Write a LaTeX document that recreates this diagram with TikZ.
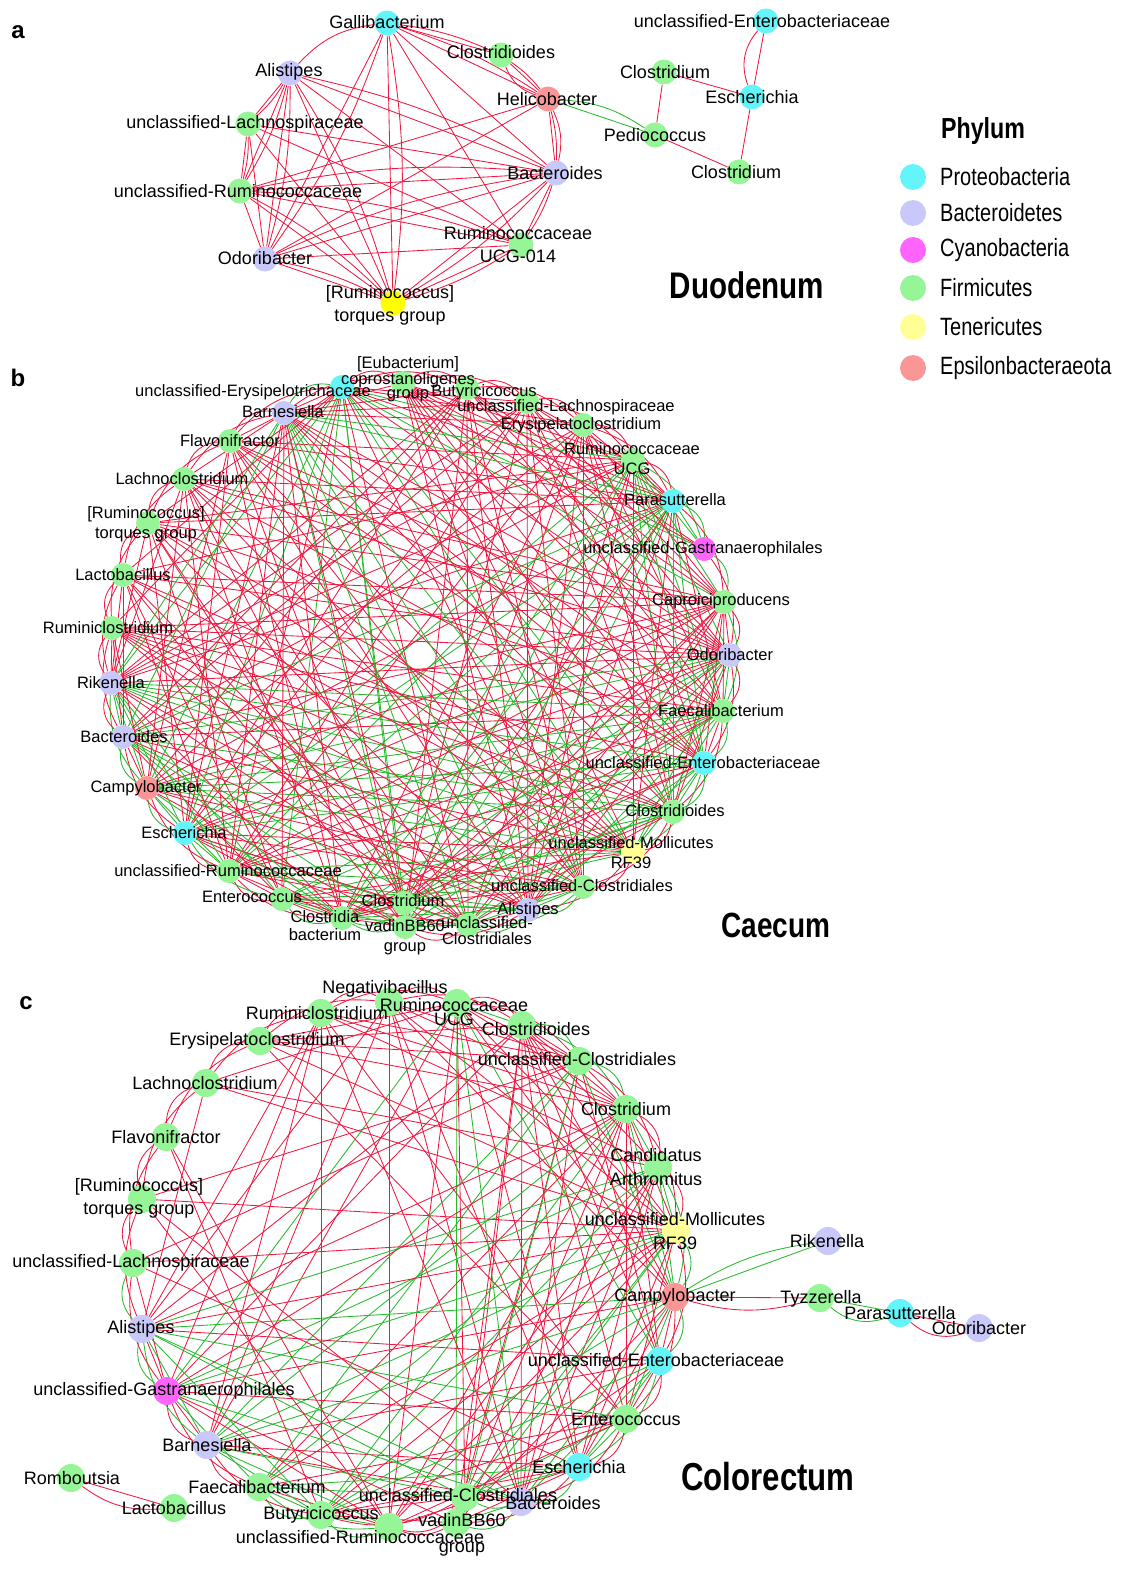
\documentclass[tikz,border=0pt]{standalone}
\usepackage{fontspec}
\setmainfont{Liberation Sans}
\newfontfamily\narrowfont[FakeStretch=0.8]{Liberation Sans}
\usepackage{tikz}
\definecolor{proteo}{RGB}{100,245,250}
\definecolor{bactero}{RGB}{200,200,250}
\definecolor{cyanob}{RGB}{255,100,255}
\definecolor{firmi}{RGB}{150,245,150}
\definecolor{teneri}{RGB}{255,255,150}
\definecolor{tenerib}{RGB}{255,255,0}
\definecolor{epsilon}{RGB}{250,150,150}
\definecolor{posedge}{RGB}{238,25,65}
\definecolor{negedge}{RGB}{40,185,45}
\pgfdeclarelayer{edges}
\pgfdeclarelayer{dots}
\pgfsetlayers{edges,dots,main}
\tikzstyle{otu}=[circle,inner sep=0pt,draw=none]
\tikzstyle{otua}=[otu,minimum size=25pt]
\tikzstyle{otub}=[otu,minimum size=24pt]
\tikzstyle{otuc}=[otu,minimum size=28pt]
\tikzstyle{pro}=[fill=proteo]
\tikzstyle{bac}=[fill=bactero]
\tikzstyle{cya}=[fill=cyanob]
\tikzstyle{fir}=[fill=firmi]
\tikzstyle{ten}=[fill=teneri]
\tikzstyle{tenb}=[fill=tenerib]
\tikzstyle{eps}=[fill=epsilon]
\tikzstyle{poscorr}=[draw=posedge,line width=0.85pt]
\tikzstyle{negcorr}=[draw=negedge,line width=0.85pt]
\tikzstyle{lbla}=[inner sep=0pt,align=center,font=\fontsize{18}{23}\selectfont]
\tikzstyle{lblb}=[inner sep=0pt,align=center,font=\fontsize{16.5}{20}\selectfont]
\tikzstyle{lblc}=[inner sep=0pt,align=center,font=\fontsize{18}{24}\selectfont]
\tikzstyle{panel}=[inner sep=0pt,font=\bfseries\fontsize{24}{26}\selectfont]
\tikzstyle{site}=[inner sep=0pt,font=\narrowfont\bfseries\fontsize{37}{40}\selectfont]
\tikzstyle{legtext}=[anchor=west,inner sep=0pt,font=\narrowfont\fontsize{25}{28}\selectfont]
% circle on its own layer, label on top
\newcommand{\taxon}[6]{%
  \begin{pgfonlayer}{dots}\node[#2] (#1) at (#3) {};\end{pgfonlayer}
  \node[#4] (#1-t) at (#5) {#6};}
% edge weights (index 0 unused)
\def\wb{{0,44,18,18,18,18,44,44,38,38,38,38,38,36,36,38,38,36,38,36,36,36,36,36,38,40,40,20,18,16,16,20,44}}
\def\wc{{0,20,52,48,48,48,46,46,46,46,46,46,44,44,44,46,38,44,44,46,46,5,0,0,0,5,20}}
\begin{document}
\begin{tikzpicture}[x=1pt,y=-1pt]
\useasboundingbox (0,0) rectangle (1130,1570);

%%% a: Duodenum
\node[panel] (pa) at (18,32) {a};
\taxon{dgalli}{otua,pro}{387,23}{lbla}{387,22}{Gallibacterium}
\taxon{dclostd}{otua,fir}{501,55}{lbla}{501,52}{Clostridioides}
\taxon{dalist}{otua,bac}{290,73}{lbla}{289,72}{Alistipes}
\taxon{dhelico}{otua,eps}{548,99}{lbla}{547,99}{Helicobacter}
\taxon{dulach}{otua,fir}{248,124}{lbla}{245,124}{unclassified-Lachnospiraceae}
\taxon{durum}{otua,fir}{240,191}{lbla}{238,191}{unclassified-Ruminococcaceae}
\taxon{dbacte}{otua,bac}{556,173}{lbla}{555,173}{Bacteroides}
\taxon{dodori}{otua,bac}{265,259}{lbla}{265,258}{Odoribacter}
\taxon{drucg}{otua,fir}{521,245}{lbla}{518,245}{Ruminococcaceae\\UCG-014}
\taxon{dtorq}{otua,tenb}{393,303}{lbla}{390,305}{[Ruminococcus]\\torques group}
\taxon{duentero}{otua,pro}{766,21}{lbla}{762,21}{unclassified-Enterobacteriaceae}
\taxon{dclostr}{otua,fir}{664,72}{lbla}{665,72}{Clostridium}
\taxon{desch}{otua,pro}{752,97}{lbla}{752,97}{Escherichia}
\taxon{dpedio}{otua,fir}{655,135}{lbla}{655,135}{Pediococcus}
\taxon{dclostrb}{otua,fir}{739,172}{lbla}{736,172}{Clostridium}
\node[site] (duod) at (747,285) {Duodenum};

\begin{pgfonlayer}{edges}
\foreach \p/\q in {dgalli/dclostd,dgalli/dhelico,dgalli/dbacte,dgalli/drucg,dgalli/dodori,dgalli/dtorq,
  dclostd/dhelico,dalist/dulach,dalist/durum,dalist/dodori,dalist/dtorq,dalist/dbacte,dalist/drucg,
  dhelico/dbacte,dhelico/dodori,dhelico/durum,dulach/durum,dulach/dodori,dulach/dtorq,dulach/dbacte,
  dulach/drucg,durum/dodori,durum/dtorq,durum/dbacte,durum/drucg,dodori/dtorq,dodori/dbacte,
  dodori/drucg,dbacte/drucg,dbacte/dtorq,drucg/dtorq}
  \draw[poscorr] (\p) -- (\q);
\foreach \p/\q in {dgalli/dclostd,dgalli/dhelico,dgalli/dtorq,dgalli/dodori,dclostd/dhelico,
  dalist/dulach,dalist/durum,dalist/dodori,dalist/dtorq,dalist/dbacte,dhelico/dbacte,dulach/durum,
  durum/dtorq,durum/dbacte,durum/drucg,dodori/dtorq,dodori/dbacte,dbacte/drucg,dbacte/dtorq,drucg/dtorq}
  \draw[poscorr] (\p) to[bend left=8] (\q);
\draw[poscorr] (dalist) to[bend left=20] (dgalli);
\draw[poscorr] (dclostd) to[bend right=25] (dhelico);
\draw[poscorr] (dhelico) to[bend left=18] (dbacte);
\draw[negcorr] (dhelico) -- (dpedio);
\draw[negcorr] (dhelico) to[bend left=15] (dpedio);
\draw[poscorr] (dclostr) -- (dpedio);
\draw[poscorr] (dclostr) -- (desch);
\draw[poscorr] (dpedio) -- (dclostrb);
\draw[poscorr] (desch) -- (dclostrb);
\draw[poscorr] (duentero) -- (desch);
\draw[poscorr] (duentero) to[bend right=30] (desch);
\end{pgfonlayer}

% legend
\node[inner sep=0pt,font=\narrowfont\bfseries\fontsize{29}{32}\selectfont] (phylum) at (983,131) {Phylum};
\foreach \y/\s/\t [count=\k] in {177/proteo/Proteobacteria,213/bactero/Bacteroidetes,
  250/cyanob/Cyanobacteria,288/firmi/Firmicutes,327/teneri/Tenericutes,368/epsilon/Epsilonbacteraeota}{
  \node[otu,minimum size=26pt,fill=\s] (key\k) at (913,\y) {};
  \node[legtext] (keytext\k) at (940,\y) {\t};
}

%%% b: Caecum
\node[panel] (pb) at (18,378) {b};
\taxon{b1}{otub,pro}{342,387}{lblb}{253,392}{unclassified-Erysipelotrichaceae}
\taxon{b2}{otub,fir}{403,383}{lblb,font=\fontsize{16.5}{13.5}\selectfont}{408,379}{[Eubacterium]\\coprostanoligenes\\group}
\taxon{b3}{otub,fir}{467,388}{lblb}{484,392}{Butyricicoccus}
\taxon{b4}{otub,fir}{527,402}{lblb}{566,407}{unclassified-Lachnospiraceae}
\taxon{b5}{otub,fir}{583,425}{lblb}{581,425}{Erysipelatoclostridium}
\taxon{b6}{otub,fir}{633,460}{lblb}{632,459}{Ruminococcaceae\\UCG}
\taxon{b7}{otub,pro}{673,501}{lblb}{675,500}{Parasutterella}
\taxon{b8}{otub,cya}{704,549}{lblb}{703,549}{unclassified-Gastranaerophilales}
\taxon{b9}{otub,fir}{724,602}{lblb}{721,601}{Caproiciproducens}
\taxon{b10}{otub,bac}{730,655}{lblb}{730,655}{Odoribacter}
\taxon{b11}{otub,fir}{723,711}{lblb}{721,711}{Faecalibacterium}
\taxon{b12}{otub,pro}{704,763}{lblb}{703,763}{unclassified-Enterobacteriaceae}
\taxon{b13}{otub,fir}{673,812}{lblb}{675,811}{Clostridioides}
\taxon{b14}{otub,ten}{633,852}{lblb}{631,853}{unclassified-Mollicutes\\RF39}
\taxon{b15}{otub,fir}{583,887}{lblb}{582,886}{unclassified-Clostridiales}
\taxon{b16}{otub,bac}{528,910}{lblb}{528,910}{Alistipes}
\taxon{b17}{otub,fir}{468,925}{lblb,font=\fontsize{16.5}{16}\selectfont}{487,931}{unclassified-\\Clostridiales}
\taxon{b18}{otub,fir}{405,927}{lblb}{405,937}{vadinBB60\\group}
\taxon{b19}{otub,fir}{404,903}{lblb}{403,901}{Clostridium}
\taxon{b20}{otub,fir}{342,918}{lblb,font=\fontsize{16.5}{18}\selectfont}{325,926}{Clostridia\\bacterium}
\taxon{b21}{otub,fir}{282,899}{lblb}{252,897}{Enterococcus}
\taxon{b22}{otub,fir}{229,871}{lblb}{228,871}{unclassified-Ruminococcaceae}
\taxon{b23}{otub,pro}{185,833}{lblb}{184,833}{Escherichia}
\taxon{b24}{otub,eps}{147,788}{lblb}{146,788}{Campylobacter}
\taxon{b25}{otub,bac}{123,737}{lblb}{124,737}{Bacteroides}
\taxon{b26}{otub,bac}{111,683}{lblb}{111,683}{Rikenella}
\taxon{b27}{otub,fir}{112,628}{lblb}{108,628}{Ruminiclostridium}
\taxon{b28}{otub,fir}{123,575}{lblb}{123,575}{Lactobacillus}
\taxon{b29}{otub,fir}{148,523}{lblb}{146,524}{[Ruminococcus]\\torques group}
\taxon{b30}{otub,fir}{184,479}{lblb}{182,479}{Lachnoclostridium}
\taxon{b31}{otub,fir}{230,441}{lblb}{230,441}{Flavonifractor}
\taxon{b32}{otub,bac}{284,413}{lblb}{283,412}{Barnesiella}
\node[site,font=\narrowfont\bfseries\fontsize{35}{38}\selectfont] (caec) at (776,925) {Caecum};

\begin{pgfonlayer}{edges}
\foreach \i in {1,...,31}{
  \pgfmathtruncatemacro\inext{\i+1}
  \pgfmathtruncatemacro\gi{or(and(\i>1,\i<6),and(\i>26,\i<32))}
  \pgfmathtruncatemacro\wi{\wb[\i]}
  \foreach \j in {\inext,...,32}{
    \pgfmathtruncatemacro\gj{or(and(\j>1,\j<6),and(\j>26,\j<32))}
    \pgfmathtruncatemacro\wj{\wb[\j]}
    \pgfmathtruncatemacro\thr{\wi+\wj-100*\gi*\gj}
    \pgfmathtruncatemacro\h{mod(\i*37+\j*61+mod(\i*\j,23)*17,100)}
    \pgfmathtruncatemacro\isneg{(\gi+\gj==0)*(mod(\i*\i*7+\j*13+\i*\j*3,10)<6)}
    \ifnum\h<\thr
      \ifnum\isneg=1 \draw[negcorr] (b\i) -- (b\j); \else \draw[poscorr] (b\i) -- (b\j); \fi
    \fi
  }
}
\foreach \i in {1,...,32}{
  \pgfmathtruncatemacro\j{mod(\i,32)+1}
  \pgfmathtruncatemacro\k{mod(\i+1,32)+1}
  \pgfmathtruncatemacro\gi{or(and(\i>1,\i<6),and(\i>26,\i<32))}
  \pgfmathtruncatemacro\isneg{(\gi==0)*(mod(\i*3,4)<2)}
  \ifnum\isneg=1 \def\ecol{negedge}\else\def\ecol{posedge}\fi
  \draw[poscorr,draw=\ecol] (b\i) to[bend left=35] (b\j);
  \pgfmathtruncatemacro\isneg{(\gi==0)*(mod(\i*5,3)<1)}
  \ifnum\isneg=1 \def\ecol{negedge}\else\def\ecol{posedge}\fi
  \draw[poscorr,draw=\ecol] (b\i) to[bend left=22] (b\k);
}
\end{pgfonlayer}

%%% c: Colorectum
\node[panel] (pc) at (26,1003) {c};
\taxon{c1}{otuc,fir}{389,1002}{lblc}{385,989}{Negativibacillus}
\taxon{c2}{otuc,fir}{457,1003}{lblc,font=\fontsize{18}{12.5}\selectfont}{454,1012}{Ruminococcaceae\\UCG}
\taxon{c3}{otuc,fir}{522,1025}{lblc}{536,1029}{Clostridioides}
\taxon{c4}{otuc,fir}{579,1061}{lblc}{577,1059}{unclassified-Clostridiales}
\taxon{c5}{otuc,fir}{626,1109}{lblc}{626,1109}{Clostridium}
\taxon{c6}{otuc,fir}{658,1167}{lblc}{656,1167}{Candidatus\\Arthromitus}
\taxon{c7}{otuc,ten}{676,1230}{lblc}{675,1231}{unclassified-Mollicutes\\RF39}
\taxon{c8}{otuc,eps}{675,1297}{lblc}{675,1297}{Campylobacter}
\taxon{c9}{otuc,pro}{660,1361}{lblc}{656,1360}{unclassified-Enterobacteriaceae}
\taxon{c10}{otuc,fir}{626,1419}{lblc}{626,1419}{Enterococcus}
\taxon{c11}{otuc,pro}{579,1467}{lblc}{579,1467}{Escherichia}
\taxon{c12}{otuc,bac}{521,1502}{lblc}{553,1503}{Bacteroides}
\taxon{c13}{otuc,fir}{456,1523}{lblc,font=\fontsize{18}{26}\selectfont}{462,1535}{vadinBB60\\group}
\taxon{c14}{otuc,fir}{465,1497}{lblc}{458,1495}{unclassified-Clostridiales}
\taxon{c15}{otuc,fir}{389,1527}{lblc}{360,1537}{unclassified-Ruminococcaceae}
\taxon{c16}{otuc,fir}{321,1515}{lblc}{321,1515}{Butyricicoccus}
\taxon{c17}{otuc,fir}{259,1487}{lblc}{257,1487}{Faecalibacterium}
\taxon{c18}{otuc,bac}{207,1445}{lblc}{207,1445}{Barnesiella}
\taxon{c19}{otuc,cya}{167,1391}{lblc}{164,1391}{unclassified-Gastranaerophilales}
\taxon{c20}{otuc,bac}{142,1329}{lblc}{141,1329}{Alistipes}
\taxon{c21}{otuc,fir}{133,1263}{lblc}{131,1263}{unclassified-Lachnospiraceae}
\taxon{c22}{otuc,fir}{142,1199}{lblc,font=\fontsize{18}{23}\selectfont}{139,1198}{[Ruminococcus]\\torques group}
\taxon{c23}{otuc,fir}{166,1137}{lblc}{166,1137}{Flavonifractor}
\taxon{c24}{otuc,fir}{206,1083}{lblc}{205,1083}{Lachnoclostridium}
\taxon{c25}{otuc,fir}{260,1041}{lblc}{257,1041}{Erysipelatoclostridium}
\taxon{c26}{otuc,fir}{321,1013}{lblc}{317,1013}{Ruminiclostridium}
\taxon{criken}{otuc,bac}{828,1241}{lblc}{827,1241}{Rikenella}
\taxon{ctyzz}{otuc,fir}{820,1298}{lblc}{821,1299}{Tyzzerella}
\taxon{cparas}{otuc,pro}{900,1313}{lblc}{900,1313}{Parasutterella}
\taxon{codori}{otuc,bac}{979,1328}{lblc}{979,1328}{Odoribacter}
\taxon{crombo}{otuc,fir}{71,1478}{lblc}{72,1478}{Romboutsia}
\taxon{clacto}{otuc,fir}{174,1508}{lblc}{174,1508}{Lactobacillus}
\node[site,font=\narrowfont\bfseries\fontsize{39}{42}\selectfont] (colo) at (768,1477) {Colorectum};

\begin{pgfonlayer}{edges}
\foreach \i in {1,...,25}{
  \pgfmathtruncatemacro\inext{\i+1}
  \pgfmathtruncatemacro\gi{or(\i==1,\i>20)}
  \pgfmathtruncatemacro\wi{\wc[\i]}
  \foreach \j in {\inext,...,26}{
    \pgfmathtruncatemacro\gj{or(\j==1,\j>20)}
    \pgfmathtruncatemacro\wj{\wc[\j]}
    \pgfmathtruncatemacro\thr{\wi+\wj-20-100*\gi*\gj}
    \pgfmathtruncatemacro\h{mod(\i*41+\j*59+mod(\i*\j,19)*13,100)}
    \pgfmathtruncatemacro\isneg{(\gi+\gj==0)*(mod(\i*\i*5+\j*11+\i*\j*3,10)<5)}
    \ifnum\h<\thr
      \ifnum\isneg=1 \draw[negcorr] (c\i) -- (c\j); \else \draw[poscorr] (c\i) -- (c\j); \fi
    \fi
  }
}
\foreach \i in {1,...,26}{
  \pgfmathtruncatemacro\j{mod(\i,26)+1}
  \pgfmathtruncatemacro\k{mod(\i+1,26)+1}
  \pgfmathtruncatemacro\gi{or(\i==1,\i>20)}
  \pgfmathtruncatemacro\isneg{(\gi==0)*(mod(\i*3,4)<2)}
  \ifnum\isneg=1 \def\ecol{negedge}\else\def\ecol{posedge}\fi
  \draw[poscorr,draw=\ecol] (c\i) to[bend left=35] (c\j);
  \pgfmathtruncatemacro\isneg{(\gi==0)*(mod(\i*5,3)<1)}
  \ifnum\isneg=1 \def\ecol{negedge}\else\def\ecol{posedge}\fi
  \draw[poscorr,draw=\ecol] (c\i) to[bend left=22] (c\k);
}
\draw[negcorr] (c8) -- (criken);
\draw[negcorr] (c8) to[bend left=12] (criken);
\draw[poscorr] (c8) -- (ctyzz);
\draw[poscorr] (c8) to[bend right=15] (ctyzz);
\draw[negcorr] (ctyzz) -- (cparas);
\draw[negcorr] (ctyzz) to[bend right=30] (cparas);
\draw[poscorr] (cparas) -- (codori);
\draw[poscorr] (cparas) to[bend right=30] (codori);
\draw[poscorr] (crombo) -- (clacto);
\draw[poscorr] (crombo) to[bend right=20] (clacto);
\end{pgfonlayer}
\end{tikzpicture}
\end{document}
